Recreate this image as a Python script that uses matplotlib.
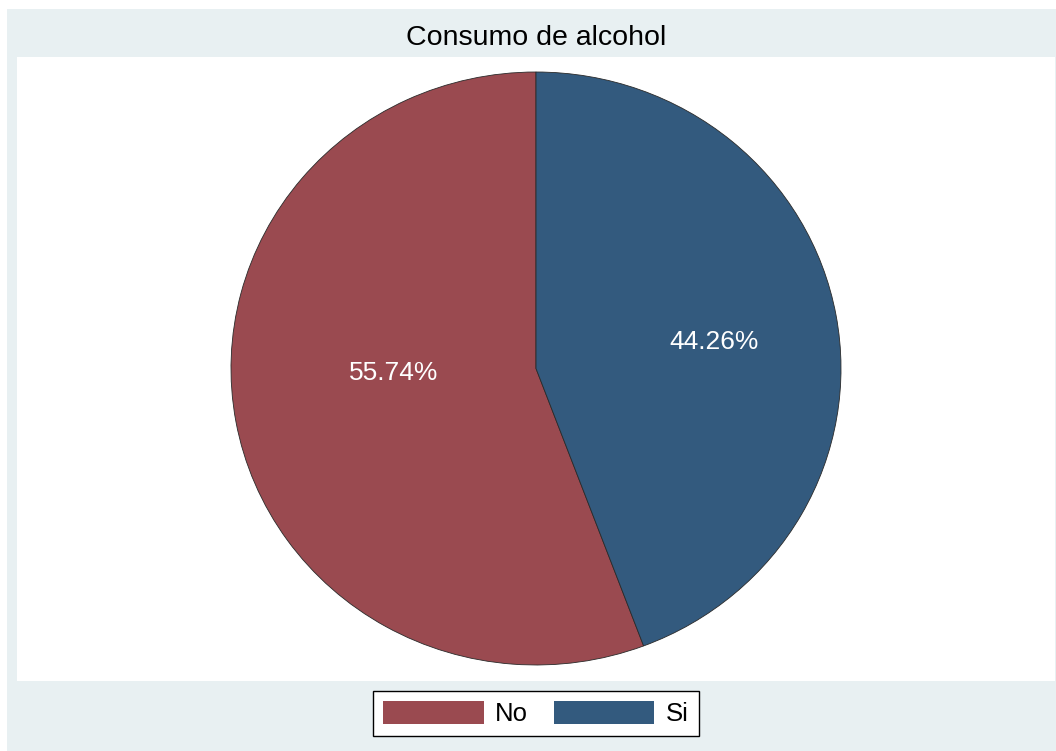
import numpy as np
import matplotlib.pyplot as plt
from matplotlib.patches import Rectangle, Patch

plt.rcParams['font.family'] = ['Liberation Sans', 'DejaVu Sans']

# data
labels = ['No', 'Si']
shares = [55.74, 44.26]
colors = ['#9A4A50', '#335A7E']
title = 'Consumo de alcohol'

W, H = 1056, 751
fig = plt.figure(figsize=(W / 100, H / 100), dpi=100)
fig.patch.set_facecolor('white')

# light outer panel (Stata style)
fig.add_artist(Rectangle((7 / W, 0), 1 - 7 / W, 1 - 9 / H, transform=fig.transFigure,
                         facecolor='#E8F0F2', edgecolor='none', zorder=0))

# plot region
ax = fig.add_axes([17 / W, 1 - 681 / H, (1055 - 17) / W, (681 - 57) / H])
wedges, _ = ax.pie(shares, colors=colors, startangle=90, counterclock=True,
                   wedgeprops=dict(edgecolor='#2a2a2a', linewidth=0.6))
ax.set_aspect('auto')
ax.set_xlim(-1.7016, 1.7016)
ax.set_ylim(-1.054, 1.0506)
ax.set_frame_on(True)
ax.set_facecolor('white')
for s in ax.spines.values():
    s.set_visible(False)
ax.set_xticks([])
ax.set_yticks([])

# percentage labels
label_pos = [(-0.466, -0.015), (0.584, 0.089)]
for (x, y), v in zip(label_pos, shares):
    ax.text(x, y, f'{v:.2f}%', color='white', fontsize=19, ha='center', va='center')

fig.text(536 / W, 1 - 38 / H, title, fontsize=20.5, ha='center', va='center')

handles = [Patch(facecolor=c, edgecolor='none') for c in colors]
leg = fig.legend(handles, labels, loc='center', bbox_to_anchor=(536 / W, 1 - 713.5 / H),
                 ncol=2, fontsize=18.5, frameon=True, fancybox=False, framealpha=1,
                 handlelength=3.9, handleheight=1.0, columnspacing=1.0,
                 handletextpad=0.45, borderpad=0.4, borderaxespad=0)
leg.get_frame().set_edgecolor('black')
leg.get_frame().set_facecolor('white')
leg.get_frame().set_linewidth(1.0)

fig.savefig('out.png', dpi=100)
